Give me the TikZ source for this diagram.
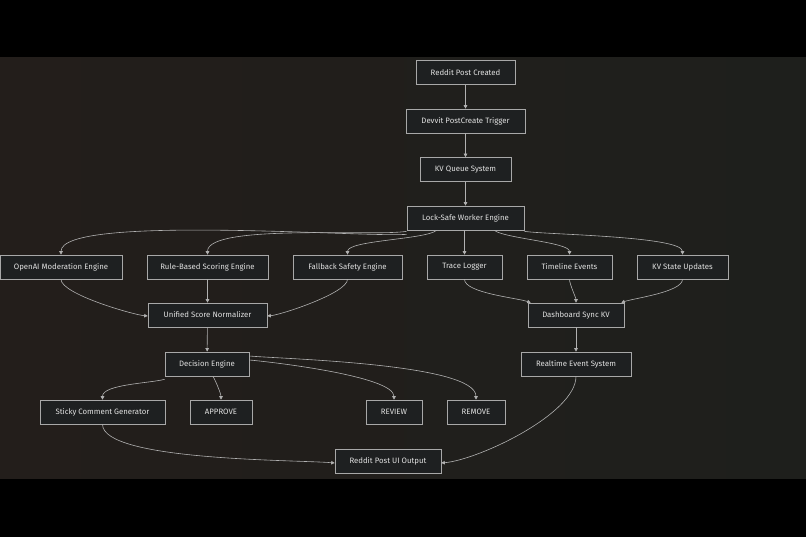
\documentclass[tikz,border=0pt]{standalone}
\usepackage{fontspec}
\setmainfont{Fira Sans}
\usetikzlibrary{arrows.meta}
\definecolor{bgmid}{HTML}{1E1F1C}
\definecolor{bgleft}{HTML}{231E1B}
\definecolor{nfill}{HTML}{1E2021}
\definecolor{nline}{HTML}{A8A8A8}
\definecolor{ntext}{HTML}{E0E0E0}
\begin{document}
\begin{tikzpicture}[x=1pt,y=-1pt,
  box/.style={draw=nline,fill=nfill,text=ntext,line width=0.6pt,minimum height=24pt,inner sep=0pt,font=\fontsize{7.8}{9}\selectfont},
  arr/.style={draw=nline!90,line width=0.6pt,-{Triangle[length=3.5pt,width=3.5pt]}}]
\fill[black] (0,0) rectangle (806,537);
\shade[left color=bgleft, right color=bgmid] (0,58) rectangle (806,478);
\useasboundingbox (0,0) rectangle (806,537);
\node[box,minimum width=99pt] (a) at (465.5,72.5) {Reddit Post Created};
\node[box,minimum width=119pt] (b) at (465.5,121) {Devvit PostCreate Trigger};
\node[box,minimum width=91pt] (c) at (465.5,169.5) {KV Queue System};
\node[box,minimum width=117pt] (d) at (465.5,218) {Lock-Safe Worker Engine};
\node[box,minimum width=122pt] (e1) at (61,267) {OpenAI Moderation Engine};
\node[box,minimum width=121pt] (e2) at (207.5,267) {Rule-Based Scoring Engine};
\node[box,minimum width=109pt] (e3) at (347.5,267) {Fallback Safety Engine};
\node[box,minimum width=75pt] (e4) at (464.5,267) {Trace Logger};
\node[box,minimum width=85pt] (e5) at (569.5,267) {Timeline Events};
\node[box,minimum width=91pt] (e6) at (682.5,267) {KV State Updates};
\node[box,minimum width=119pt] (u) at (207.5,315) {Unified Score Normalizer};
\node[box,minimum width=96pt] (k) at (576,315) {Dashboard Sync KV};
\node[box,minimum width=84pt] (de) at (207,364) {Decision Engine};
\node[box,minimum width=110pt] (r) at (576,364) {Realtime Event System};
\node[box,minimum width=125pt] (s) at (102.5,412) {Sticky Comment Generator};
\node[box,minimum width=62pt] (ap) at (221,412) {APPROVE};
\node[box,minimum width=56pt] (rv) at (394,412) {REVIEW};
\node[box,minimum width=58pt] (rm) at (476,412) {REMOVE};
\node[box,minimum width=106pt] (o) at (388,461) {Reddit Post UI Output};
\draw[arr] (a) -- (b);
\draw[arr] (b) -- (c);
\draw[arr] (c) -- (d);
\draw[arr] ([yshift=-4pt]d.south west) to[out=185,in=90,looseness=0.3] (e1.north);
\draw[arr] ([yshift=-1pt]d.south west) to[out=190,in=90,looseness=0.4] (e2.north);
\draw[arr] ([xshift=30pt]d.south west) to[out=-140,in=90,looseness=0.4] (e3.north);
\draw[arr] (e4.north |- d.south) -- (e4.north);
\draw[arr] ([xshift=-30pt]d.south east) to[out=-40,in=90,looseness=0.4] (e5.north);
\draw[arr] ([yshift=-1pt]d.south east) to[out=-10,in=90,looseness=0.3] (e6.north);
\draw[arr] (e1.south) to[out=-90,in=175,looseness=0.4] ([yshift=-1pt]u.west);
\draw[arr] (e2) -- (u);
\draw[arr] (e3.south) to[out=-90,in=5,looseness=0.4] ([yshift=-1pt]u.east);
\draw[arr] (e4.south) to[out=-90,in=160,looseness=0.5] ([xshift=3pt]k.north west);
\draw[arr] (e5.south) to[out=-90,in=90,looseness=0.5] (k.north);
\draw[arr] (e6.south) to[out=-90,in=20,looseness=0.5] ([xshift=-3pt]k.north east);
\draw[arr] (u) -- (de);
\draw[arr] (k) -- (r);
\draw[arr] ([yshift=-3pt]de.south west) to[out=-165,in=90,looseness=0.6] (s.north);
\draw[arr] ([xshift=6pt]de.south) to[out=-60,in=90,looseness=0.6] (ap.north);
\draw[arr] ([yshift=4pt]de.east) to[out=-5,in=90,looseness=0.4] (rv.north);
\draw[arr] ([yshift=8pt]de.east) to[out=-5,in=90,looseness=0.4] (rm.north);
\draw[arr] (s.south) to[out=-90,in=175,looseness=0.4] ([yshift=-2pt]o.west);
\draw[arr] (r.south) to[out=-90,in=5,looseness=0.6] ([yshift=-2pt]o.east);
\end{tikzpicture}
\end{document}
